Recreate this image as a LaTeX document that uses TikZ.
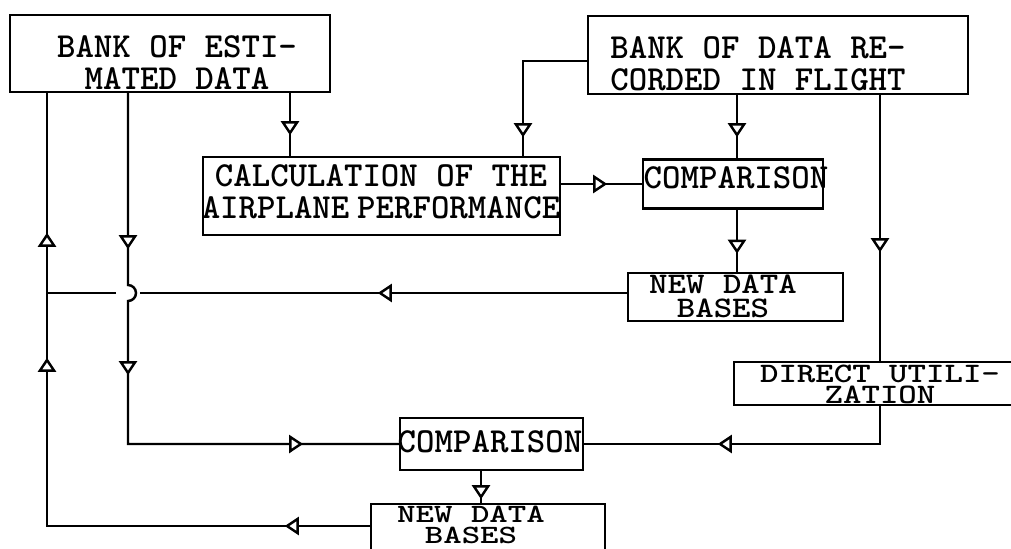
\documentclass[tikz,border=0pt]{standalone}
\usetikzlibrary{arrows.meta,calc,decorations.markings}
\tikzset{
  opentri/.tip={Triangle[length=2.8mm, width=3.6mm, fill=white]},
  wire/.style={line width=1.4pt, decoration={markings}, postaction={decorate}},
  tri at/.style={decoration={mark=at position #1 with {\arrow{opentri}}}},
  blk/.style={draw, line width=1.4pt, inner sep=0pt},
  txt/.style={align=center, inner sep=0pt, font=\fontsize{20}{18}\selectfont\ttfamily\bfseries},
  squash/.style 2 args={transform shape, yscale=#1,
    font=\fontsize{20}{#2}\selectfont\ttfamily\bfseries},
}

\begin{document}
\begin{tikzpicture}[x=1cm,y=1cm]
\useasboundingbox (0,0) rectangle (20.22,-10.96);
\clip (0,0) rectangle (20.22,-10.96);

% ============ columns and rows of the connectors ============
\coordinate (xa) at (0.94,0);
\coordinate (xb) at (2.56,0);
\coordinate (xc) at (5.80,0);
\coordinate (xd) at (10.46,0);
\coordinate (xe) at (14.74,0);
\coordinate (xf) at (17.60,0);
\coordinate (xg) at (9.62,0);
\coordinate (ya) at (0,-1.22);
\coordinate (yb) at (0,-5.86);
\coordinate (yc) at (0,-10.52);

% ============ boxes ============
\node[blk, minimum width=6.40cm, minimum height=1.54cm] (est) at (3.40,-1.07) {};
\node[txt] (est-t) at (3.54,-1.25) {BANK OF ESTI-\\MATED DATA};
\node[blk, minimum width=7.60cm, minimum height=1.56cm] (rec) at (15.56,-1.10) {};
\node[txt] (rec-t) at (15.16,-1.28) {BANK OF DATA RE-\\CORDED IN FLIGHT};
\node[blk, minimum width=7.14cm, minimum height=1.56cm] (calc) at (7.63,-3.92) {};
\node[txt] (calc-t) at (7.62,-3.84) {CALCULATION OF THE\\AIRPLANE\hspace{-0.3em} PERFORMANCE};
\node[blk, minimum width=3.60cm, minimum height=0.98cm] (cmp1) at (14.66,-3.68) {};
\node[txt] (cmp1-t) at (14.72,-3.55) {COMPARISON};
\node[blk, minimum width=4.30cm, minimum height=0.96cm] (ndb1) at (14.71,-5.94) {};
\node[txt, squash={0.85}{16.5}] (ndb1-t) at (14.46,-5.93) {NEW DATA\\BASES};
\node[blk, minimum width=5.84cm, minimum height=0.86cm] (util) at (17.60,-7.67) {};
\node[txt, squash={0.8}{15}] (util-t) at (17.60,-7.68) {DIRECT UTILI-\\ZATION};
\node[blk, minimum width=3.66cm, minimum height=1.04cm] (cmp2) at (9.83,-8.88) {};
\node[txt] (cmp2-t) at (9.80,-8.83) {COMPARISON};
\node[blk, minimum width=4.68cm, minimum height=1.04cm] (ndb2) at (9.76,-10.60) {};
\node[txt, squash={0.75}{16}] (ndb2-t) at (9.42,-10.50) {NEW DATA\\BASES};

% ============ connectors ============
\draw[wire, tri at=0.84cm] (est.south -| xc) -- (calc.north -| xc);
\draw[wire, tri at=2.80cm] (rec.west |- ya) -| (calc.north -| xd);
\draw[wire, tri at=0.84cm] (rec.south -| xe) -- (cmp1.north -| xe);
\draw[wire, tri at=3.14cm] (rec.south -| xf) -- (util.north);
\draw[wire, tri at=0.92cm] (calc.east |- cmp1.west) -- (cmp1.west);
\draw[wire, tri at=0.88cm] (cmp1.south -| xe) -- (ndb1.north -| xe);
% new data bases back to the left line, broken at the hop
\draw[wire, tri at=4.98cm] (ndb1.west |- yb) -- ($(xb |- yb)+(0.24,0)$);
\draw[wire] ($(xb |- yb)+(-0.24,0)$) -- (xa |- yb);
% estimated data to the second comparison, hopping over
\draw[wire, tri at=3.12cm, tri at=5.82cm, tri at=10.70cm] (est.south -| xb)
  -- ($(xb |- yb)+(0,0.16)$) arc[start angle=90, end angle=-90, radius=0.16]
  -- (cmp2.west -| xb) -- (cmp2.west);
\draw[wire, tri at=4.00cm] (util.south) |- (cmp2.east);
\draw[wire, tri at=0.56cm] (cmp2.south -| xg) -- (ndb2.north -| xg);
\draw[wire, tri at=1.70cm, tri at=9.82cm, tri at=12.32cm] (ndb2.west |- yc) -| (est.south -| xa);

\end{tikzpicture}
\end{document}
